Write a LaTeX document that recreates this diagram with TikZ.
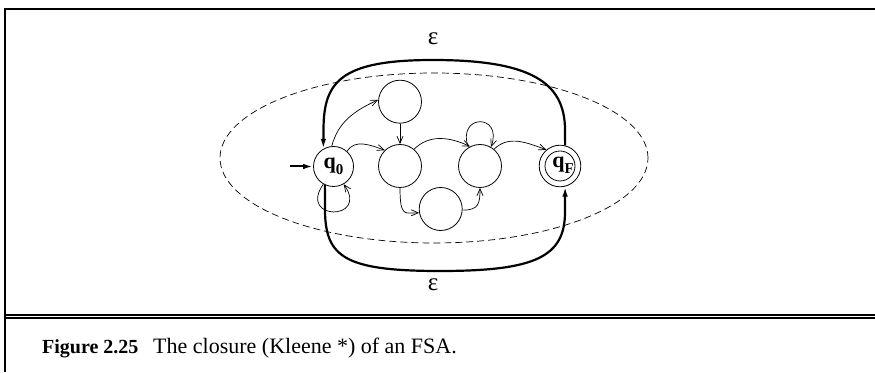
\documentclass[tikz,border=0pt]{standalone}
\usepackage{fontspec}
\setmainfont{Liberation Serif}
\usetikzlibrary{arrows.meta}
\tikzset{
  state/.style={draw, circle, line width=0.8pt, inner sep=0pt, minimum size=43pt},
  edge/.style={line width=0.7pt, -{Straight Barb[length=7pt,width=6pt]}},
  eps/.style={line width=2.2pt, -{Latex[length=10pt,width=5.5pt]}},
  frameline/.style={line width=2pt},
  qlabel/.style={font=\fontsize{22}{22}\selectfont\bfseries, inner sep=0pt},
  epslabel/.style={font=\fontsize{25}{25}\selectfont},
  captext/.style={font=\fontsize{22}{24}\selectfont, anchor=base west, inner sep=0pt}
}
\newcommand{\qsub}[1]{q\raisebox{-6pt}{\fontsize{15}{15}\selectfont #1}}
\begin{document}
\begin{tikzpicture}[x=1pt,y=1pt]
\useasboundingbox (0,0) rectangle (875,372);
% frame
\draw[frameline] (5,0) -- (5,363) -- (875,363);
\draw[line width=1.8pt] (5,57.3) -- (875,57.3);
\draw[line width=2pt] (5,53.6) -- (875,53.6);
% caption
\node[captext, font=\fontsize{20}{22}\selectfont\bfseries] (fig) at (42,19) {Figure 2.25};
\node[captext] (cap) at (153,19) {The closure (Kleene *) of an FSA.};
% dashed ellipse
\draw[line width=0.7pt, dash pattern=on 7pt off 4pt] (434,214) ellipse [x radius=214, y radius=85];
% states
\node[state, minimum size=40pt] (q0) at (333.5,205.5) {};
\node[qlabel] (q0l) at (333.5,206) {\qsub{0}};
\node[state] (t) at (400,270.3) {};
\node[state] (ml) at (400,206) {};
\node[state] (b) at (440.7,163) {};
\node[state] (mr) at (480,206) {};
\node[state, minimum size=41.6pt] (qF) at (560,206) {};
\node[state, minimum size=30pt] (qFi) at (560,206) {};
\node[qlabel] (qFl) at (563,207) {\qsub{F}};
% initial arrow
\coordinate (init) at (290,205.5);
\draw[eps, line width=2pt] (init) -- (q0.west);
% thin edges
\draw[edge] (q0.95) to[out=75,in=205] (t.175);
\draw[edge] (q0.48) to[out=60,in=160] (ml.134);
\draw[edge] (t.south) -- (ml.north);
\draw[edge] (ml.50) to[out=45,in=155] (mr.117);
\draw[edge] (ml.south) .. controls +(0,-30) and +(-14,0) .. (b.190);
\draw[edge] (b.-3) .. controls +(16,0) and +(0,-16) .. (mr.south);
\draw[edge] (mr.50) to[out=45,in=160] (qF.130);
\draw[edge] (mr.122) .. controls +(110:36) and +(70:36) .. (mr.60);
\draw[edge] (q0.240) .. controls +(235:45) and +(305:45) .. (q0.300);
% epsilon loops
\coordinate (tr) at (565,242);
\coordinate (tl) at (323.5,242);
\draw[eps] (qF.76) -- (tr) .. controls (565,290) and (530,312) .. (433,312)
  .. controls (340,312) and (323.5,290) .. (tl) -- (q0.120);
\coordinate (bl) at (325,160);
\coordinate (br) at (565,160);
\draw[eps] (q0.245) -- (bl) .. controls (326,115) and (345,101) .. (440,101)
  .. controls (535,101) and (565,115) .. (br) -- (qF.-76);
\node[epslabel] (e1) at (433,333) {ε};
\node[epslabel] (e2) at (433,87) {ε};
\end{tikzpicture}
\end{document}
